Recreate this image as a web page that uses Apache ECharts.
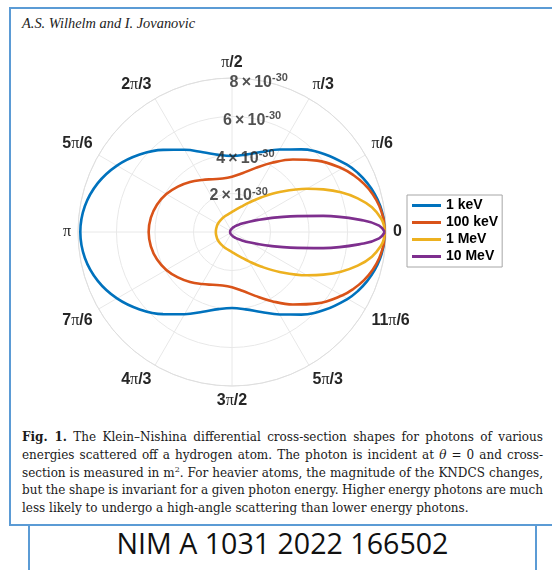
<!DOCTYPE html>
<html><head><meta charset="utf-8">
<script src="https://cdn.jsdelivr.net/npm/echarts@6/dist/echarts.min.js"></script>
<style>
html,body{margin:0;padding:0;background:#fff;width:552px;height:570px;overflow:hidden;position:relative;}
#frame{position:absolute;left:9px;top:7px;width:560px;height:515px;border:2px solid #5b9bd5;}
#lower{position:absolute;left:28px;top:526px;width:505px;height:60px;border-left:2px solid #5b9bd5;border-right:2px solid #5b9bd5;}
#chart{position:absolute;left:0;top:0;width:552px;height:420px;}
#header{position:absolute;left:22px;top:15px;font-family:'Liberation Serif';font-style:italic;font-size:14.4px;line-height:16px;color:#222;white-space:nowrap;}
#caption{position:absolute;left:22px;top:429px;width:521px;font-family:'DejaVu Serif';font-size:12px;line-height:17.8px;color:#1a1a1a;}
#caption .ln{white-space:nowrap;}
#caption .ln span{white-space:nowrap;}
#nim{position:absolute;left:30px;width:505px;top:527px;text-align:center;font-family:'Open Sans';font-size:28.6px;line-height:32px;color:#111;white-space:nowrap;}
</style></head>
<body>
<div id="frame"></div>
<div id="lower"></div>
<div id="header">A.S. Wilhelm and I. Jovanovic</div>
<div id="chart"></div>
<div id="caption">
<div class="ln j"><span><b>Fig. 1.</b> The Klein–Nishina differential cross-section shapes for photons of various</span></div>
<div class="ln j"><span>energies scattered off a hydrogen atom. The photon is incident at <i>θ</i> = 0 and cross-</span></div>
<div class="ln j"><span>section is measured in m<sup style="font-size:8px;line-height:0">2</sup>. For heavier atoms, the magnitude of the KNDCS changes,</span></div>
<div class="ln j"><span>but the shape is invariant for a given photon energy. Higher energy photons are much</span></div>
<div class="ln"><span>less likely to undergo a high-angle scattering than lower energy photons.</span></div>
</div>
<div id="nim">NIM A 1031 2022 166502</div>
<script>
// ---- data (cross-section in units of 1e-30 m^2, angle in degrees) ----
const angles = [0,2.5,5,10,15,20,25,30,40,50,60,70,80,90,100,110,120,130,140,150,160,170,180,
  190,200,210,220,230,240,250,260,270,280,290,300,310,320,330,335,340,345,350,355,357.5,360];
const kev1 = [7.94,7.93,7.91,7.82,7.67,7.47,7.23,6.94,6.29,5.60,4.95,4.42,4.08,3.95,4.07,4.41,4.93,5.57,6.26,6.90,7.42,7.76,7.88,
  7.76,7.42,6.90,6.26,5.57,4.93,4.41,4.07,3.95,4.08,4.42,4.95,5.60,6.29,6.94,7.23,7.47,7.67,7.82,7.91,7.93,7.94];
const kev100 = [7.94,7.93,7.90,7.77,7.57,7.30,6.97,6.60,5.77,4.92,4.15,3.53,3.10,2.87,2.82,2.92,3.12,3.39,3.67,3.94,4.15,4.28,4.33,
  4.28,4.15,3.94,3.67,3.39,3.12,2.92,2.82,2.87,3.10,3.53,4.15,4.92,5.77,6.60,6.97,7.30,7.57,7.77,7.90,7.93,7.94];
const mev1 = [7.94,7.90,7.79,7.38,6.76,6.02,5.24,4.50,3.23,2.34,1.76,1.40,1.18,1.04,0.96,0.91,0.88,0.86,0.85,0.85,0.84,0.84,0.84,
  0.84,0.84,0.85,0.85,0.86,0.88,0.91,0.96,1.04,1.18,1.40,1.76,2.34,3.23,4.50,5.24,6.02,6.76,7.38,7.79,7.90,7.94];
const mev10 = [7.94,7.65,6.87,4.81,3.14,2.11,1.49,1.10,0.68,0.47,0.35,0.27,0.22,0.18,0.16,0.14,0.13,0.12,0.11,0.105,0.10,0.10,0.10,
  0.10,0.10,0.105,0.11,0.12,0.13,0.14,0.16,0.18,0.22,0.27,0.35,0.47,0.68,1.10,1.49,2.11,3.14,4.81,6.87,7.65,7.94];
const seriesNames = ['1 keV','100 keV','1 MeV','10 MeV'];
const angleTickLabels = ['0','π/6','π/3','π/2','2π/3','5π/6','π','7π/6','4π/3','3π/2','5π/3','11π/6'];
const radiusTicks = [2,4,6,8];
const radiusExponent = '-30';
const radiusLabelAngle = 80;

const seriesValues = [kev1, kev100, mev1, mev10];
const colors = ['#0072BD','#D95319','#EDB120','#7E2F8E'];

function angleLabel(v){
  const t = angleTickLabels[Math.round(v/30)];
  if (t === undefined || v >= 360) return '';
  const parts = t.split('π');
  let out = '';
  parts.forEach((p,i)=>{ if(p) out += '{b|'+p+'}'; if(i<parts.length-1) out += '{p|π}'; });
  return out;
}

const chart = echarts.init(document.getElementById('chart'), null, {renderer:'canvas'});
chart.setOption({
  animation:false,
  polar:{center:[232,232], radius:154},
  angleAxis:{type:'value', min:0, max:360, interval:30, startAngle:0, clockwise:false,
    axisLine:{lineStyle:{color:'#dedede', width:1}},
    axisTick:{show:false},
    splitLine:{show:true, lineStyle:{color:'#e8e8e8', width:1}},
    axisLabel:{margin:7, formatter:angleLabel,
      rich:{b:{fontFamily:'Liberation Sans', fontWeight:'bold', fontSize:16, color:'#262626'},
            p:{fontFamily:'Liberation Serif', fontSize:16, color:'#262626'}}}
  },
  radiusAxis:{type:'value', min:0, max:8, interval:2,
    axisLine:{show:false}, axisTick:{show:false}, axisLabel:{show:false},
    splitLine:{show:true, lineStyle:{color:'#e8e8e8', width:1}}},
  legend:{data:seriesNames, orient:'vertical', left:407, top:195, icon:'rect',
    itemWidth:29, itemHeight:3, itemGap:0, padding:[2,4,2,5],
    borderColor:'#a6a6a6', borderWidth:1, backgroundColor:'#fff',
    textStyle:{fontFamily:'Liberation Sans', fontWeight:'bold', fontSize:14, color:'#000', lineHeight:17}},
  series: seriesNames.map((n,i)=>({
    type:'line', name:n, coordinateSystem:'polar',
    data: angles.map((a,j)=>[seriesValues[i][j], a]),
    smooth:0.4, showSymbol:false, symbol:'none',
    lineStyle:{width:2.6, color:colors[i]}, itemStyle:{color:colors[i]}, z:2
  })).concat([{
    type:'scatter', coordinateSystem:'polar', silent:true, z:10,
    data: radiusTicks.map(r=>[r, radiusLabelAngle]), symbolSize:0,
    label:{show:true, position:'inside', offset:[0,2],
      formatter: p => '{n|'+p.value[0]+'\u2009×\u200910}{s|'+radiusExponent+'}',
      rich:{n:{fontFamily:'Liberation Sans', fontWeight:'bold', fontSize:16, color:'#262626', lineHeight:20},
            s:{fontFamily:'Liberation Sans', fontWeight:'bold', fontSize:11, color:'#262626', verticalAlign:'top', lineHeight:12}}}
  }])
});

// justify caption lines to the block width
document.querySelectorAll('#caption .ln.j').forEach(div=>{
  const span = div.querySelector('span');
  const w = span.getBoundingClientRect().width;
  const spaces = (span.textContent.match(/ /g)||[]).length;
  if (spaces) span.style.wordSpacing = ((521 - w)/spaces) + 'px';
});
</script>
</body></html>
